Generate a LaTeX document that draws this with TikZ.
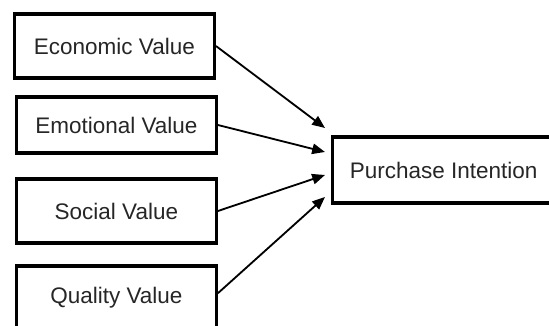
\documentclass[tikz,border=0pt]{standalone}
\usepackage{fontspec}
\setmainfont{Liberation Sans}
\usetikzlibrary{arrows.meta}

\tikzset{
  valbox/.style = {draw, line width = 2.2pt, minimum width = 5.0cm, minimum height = 1.6cm,
                   font = \fontsize{16}{19}\selectfont, text = black!85},
  link/.style   = {line width = 1.3pt, -{Triangle[length = 0.32cm, width = 0.26cm]}}
}

\begin{document}
\begin{tikzpicture}
          \useasboundingbox (0,0) rectangle (13.725,8.15);
          \clip (0,0) rectangle (13.725,8.15);

          \node[valbox]                         at ( 2.86, 7.0  ) (econ) {Economic Value};
          \node[valbox, minimum height = 1.4cm] at ( 2.91, 5.025) (emot) {Emotional Value};
          \node[valbox]                         at ( 2.91, 2.875) (soc)  {Social Value};
          \node[valbox]                         at ( 2.91, 0.7  ) (qual) {Quality Value};
          \node[valbox, minimum width = 5.55cm, minimum height = 1.65cm]
                                                at (11.09, 3.9  ) (pi)   {Purchase Intention};

          \coordinate (t1) at (8.125, 4.95 );
          \coordinate (t2) at (8.125, 4.35 );
          \coordinate (t3) at (8.125, 3.775);
          \coordinate (t4) at (8.125, 3.225);

          \draw[link] (econ.east) -- (t1);
          \draw[link] (emot.east) -- (t2);
          \draw[link] (soc.east)  -- (t3);
          \draw[link] ([yshift = 0.12cm]qual.east) -- (t4);
        \end{tikzpicture}
\end{document}
